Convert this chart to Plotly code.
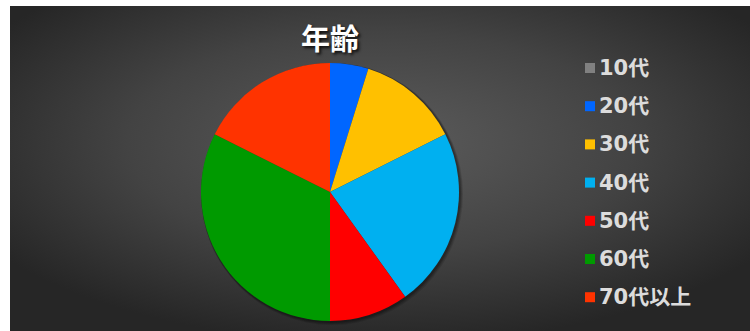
import base64
import plotly.graph_objects as go

# ---- data ----
labels = ["10代", "20代", "30代", "40代", "50代", "60代", "70代以上"]
values = [0, 4.8, 12.8, 22.5, 9.9, 32.4, 17.6]
colors = ["#808080", "#0066FF", "#FFC000", "#00B0F0", "#FF0000", "#009A00", "#FF3300"]
title_text = "年齢"

W, H = 750, 331

# background radial gradient as svg data uri
svg = f'''<svg xmlns="http://www.w3.org/2000/svg" width="740" height="325" viewBox="0 0 740 325">
<defs><radialGradient id="g" cx="50%" cy="42%" r="62%" fx="50%" fy="42%">
<stop offset="0%" stop-color="#5c5c5c"/>
<stop offset="55%" stop-color="#434343"/>
<stop offset="100%" stop-color="#262626"/>
</radialGradient></defs>
<rect width="740" height="325" fill="url(#g)"/></svg>'''
src = "data:image/svg+xml;base64," + base64.b64encode(svg.encode()).decode()

cx, cy, r = 330, 192, 129  # pixel geometry of pie (from top-left)

fig = go.Figure()
fig.add_trace(go.Pie(
    labels=labels, values=values, sort=False, direction="clockwise", rotation=0,
    marker=dict(colors=colors, line=dict(width=0)),
    textinfo="none", hoverinfo="label+value", showlegend=False,
    domain=dict(x=[(cx - r) / W, (cx + r) / W], y=[(H - cy - r) / H, (H - cy + r) / H]),
))

shapes = []
# soft pie shadow
for off, a in [(4, 0.12), (3, 0.15), (2, 0.2)]:
    shapes.append(dict(type="circle", xref="paper", yref="paper", layer="below",
                       x0=(cx - r) / W, x1=(cx + r + off) / W,
                       y0=(H - cy - r - off) / H, y1=(H - cy + r) / H,
                       fillcolor=f"rgba(0,0,0,{a})", line=dict(width=0)))

annotations = [dict(text=f"<b>{title_text}</b>", x=cx / W, y=1 - 37 / H, xref="paper", yref="paper",
                    xanchor="center", yanchor="middle", showarrow=False,
                    font=dict(family="Noto Sans CJK JP", size=29, color="white",
                              shadow="2px 2px 3px rgba(0,0,0,0.8)"))]

# legend (manual, to match row spacing)
ly0, lstep = 68, 38.2
for i, (lab, col) in enumerate(zip(labels, colors)):
    yc = ly0 + i * lstep
    shapes.append(dict(type="rect", xref="paper", yref="paper",
                       x0=585 / W, x1=595 / W, y0=1 - (yc + 5) / H, y1=1 - (yc - 5) / H,
                       fillcolor=col, line=dict(width=0)))
    annotations.append(dict(text=f"<b>{lab}</b>", x=597 / W, y=1 - yc / H, xref="paper", yref="paper",
                            xanchor="left", yanchor="middle", showarrow=False,
                            font=dict(family="DejaVu Sans, Noto Sans CJK JP", size=21, color="#dcdcdc")))

fig.update_layout(
    width=W, height=H, margin=dict(l=0, r=0, t=0, b=0),
    paper_bgcolor="white", plot_bgcolor="white",
    images=[dict(source=src, xref="paper", yref="paper", x=10 / W, y=1 - 6 / H,
                 sizex=(W - 10) / W, sizey=(H - 6) / H, sizing="stretch",
                 xanchor="left", yanchor="top", layer="below")],
    shapes=shapes, annotations=annotations,
)

fig.write_html("out.html")
